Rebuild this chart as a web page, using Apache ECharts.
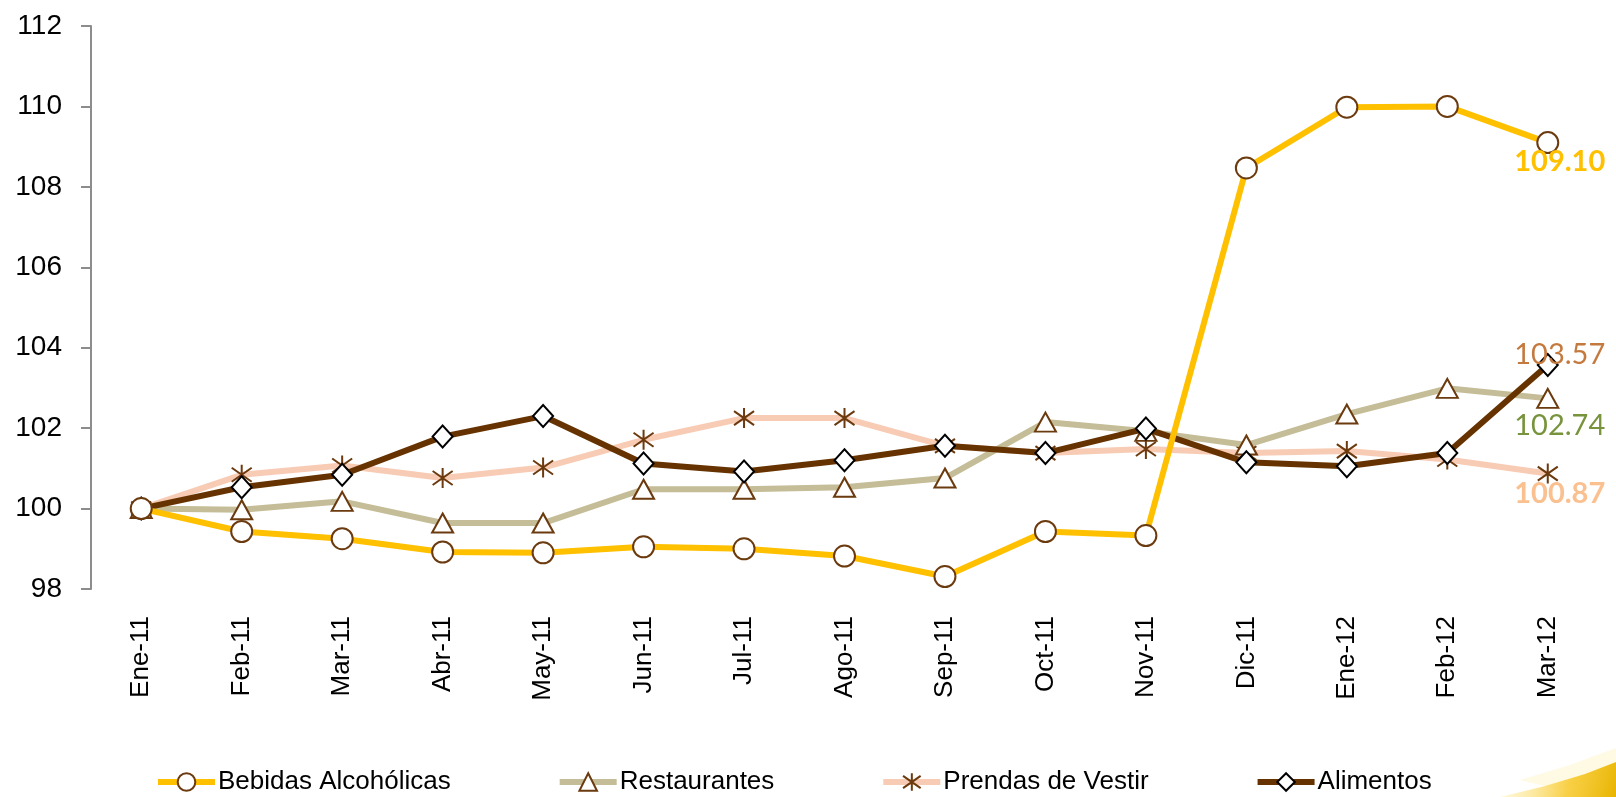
<!DOCTYPE html>
<html>
<head>
<meta charset="utf-8">
<script src="https://cdn.jsdelivr.net/npm/echarts@6/dist/echarts.min.js"></script>
<style>
  html, body { margin: 0; padding: 0; background: #fff; }
  #chart { width: 1616px; height: 797px; }
</style>
</head>
<body>
<div id="chart"></div>
<script>
// meses
const categories = ['Ene-11', 'Feb-11', 'Mar-11', 'Abr-11', 'May-11', 'Jun-11', 'Jul-11',
  'Ago-11', 'Sep-11', 'Oct-11', 'Nov-11', 'Dic-11', 'Ene-12', 'Feb-12', 'Mar-12'];

// indices (base Ene-11 = 100)
const bebidas = [100.00, 99.43, 99.25, 98.92, 98.90, 99.05, 99.00, 98.82, 98.31, 99.43, 99.33, 108.47, 109.98, 110.00, 109.10];
const restaurantes = [100.00, 99.97, 100.18, 99.64, 99.64, 100.48, 100.48, 100.53, 100.76, 102.15, 101.92, 101.58, 102.35, 102.99, 102.74];
const prendas = [100.00, 100.84, 101.07, 100.76, 101.02, 101.71, 102.25, 102.25, 101.56, 101.38, 101.48, 101.38, 101.43, 101.22, 100.87];
const alimentos = [100.00, 100.53, 100.84, 101.79, 102.30, 101.12, 100.92, 101.20, 101.56, 101.38, 101.99, 101.15, 101.05, 101.38, 103.57];

const seriesNames = ['Bebidas Alcohólicas', 'Restaurantes', 'Prendas de Vestir', 'Alimentos'];
const yTicks = { min: 98, max: 112, interval: 2 };

const markerBorder = '#6B3A0E';
const asterisk = 'path://M10,0 L10,20 M1,3 L19,17 M1,17 L19,3';

// solo el ultimo punto lleva etiqueta
function withLastLabel(values, label) {
  return values.map((v, i) => i === values.length - 1 ? { value: v, label: Object.assign({ show: true }, label) } : v);
}

const labelBase = { fontFamily: 'Lato', fontSize: 29, distance: 2, formatter: p => p.value.toFixed(2) };

let myChart = echarts.init(document.getElementById('chart'));

let option = {
  backgroundColor: '#ffffff',
  animation: false,
  graphic: [
    {
      // adorno amarillo de la esquina
      type: 'polygon',
      silent: true,
      z: -10,
      shape: { points: [[1500, 797], [1545, 786], [1585, 774], [1616, 762], [1616, 797]] },
      style: {
        fill: new echarts.graphic.LinearGradient(0, 0, 1, 1, [
          { offset: 0, color: 'rgba(255,236,150,0.2)' },
          { offset: 0.6, color: 'rgba(247,200,40,0.85)' },
          { offset: 1, color: '#E8B400' }
        ])
      }
    },
    {
      type: 'polygon',
      silent: true,
      z: -11,
      shape: { points: [[1520, 780], [1570, 765], [1616, 748], [1616, 770], [1560, 790]] },
      style: { fill: 'rgba(255,245,200,0.5)' }
    }
  ],
  grid: { left: 91, right: 18, top: 26, bottom: 208, containLabel: false },
  legend: {
    data: seriesNames,
    left: 150,
    top: 764,
    itemWidth: 57,
    itemHeight: 22,
    itemGap: 106,
    lineStyle: { width: 6 },
    textStyle: { fontFamily: 'Liberation Sans', fontSize: 26, color: '#000', padding: [0, 0, 0, -2] }
  },
  xAxis: {
    type: 'category',
    data: categories,
    boundaryGap: true,
    axisLine: { show: false },
    axisTick: { show: false },
    axisLabel: {
      rotate: 90,
      margin: 27,
      fontFamily: 'Liberation Sans',
      fontSize: 26,
      color: '#000'
    }
  },
  yAxis: {
    type: 'value',
    min: yTicks.min,
    max: yTicks.max,
    interval: yTicks.interval,
    splitLine: { show: false },
    axisLine: { show: true, lineStyle: { color: '#8C8C8C', width: 2 } },
    axisTick: { show: true, length: 10, lineStyle: { color: '#8C8C8C', width: 2 } },
    axisLabel: { margin: 29, fontFamily: 'Liberation Sans', fontSize: 28, color: '#000' }
  },
  series: [
    {
      name: seriesNames[0],
      type: 'line',
      z: 6,
      data: withLastLabel(bebidas, Object.assign({}, labelBase, { position: 'bottom', offset: [12, -9], color: '#FFC000', fontWeight: 'bold' })),
      lineStyle: { color: '#FFC000', width: 6 },
      symbol: 'circle',
      symbolSize: 21,
      itemStyle: { color: '#ffffff', borderColor: markerBorder, borderWidth: 2 }
    },
    {
      name: seriesNames[1],
      type: 'line',
      z: 3,
      data: withLastLabel(restaurantes, Object.assign({}, labelBase, { position: 'bottom', offset: [12, 0], color: '#77933C' })),
      lineStyle: { color: '#C4BD97', width: 6 },
      symbol: 'triangle',
      symbolSize: [21, 19],
      itemStyle: { color: '#ffffff', borderColor: markerBorder, borderWidth: 2 }
    },
    {
      name: seriesNames[2],
      type: 'line',
      z: 2,
      data: withLastLabel(prendas, Object.assign({}, labelBase, { position: 'bottom', offset: [12, -7], color: '#FAC090', fontWeight: 'bold' })),
      lineStyle: { color: '#F8CBB5', width: 6 },
      symbol: asterisk,
      symbolSize: 20,
      itemStyle: { color: 'rgba(0,0,0,0)', borderColor: markerBorder, borderWidth: 2 }
    },
    {
      name: seriesNames[3],
      type: 'line',
      z: 4,
      data: withLastLabel(alimentos, Object.assign({}, labelBase, { position: 'top', offset: [12, 18], color: '#C47A3F' })),
      lineStyle: { color: '#663300', width: 6 },
      symbol: 'diamond',
      symbolSize: [20, 22],
      itemStyle: { color: '#ffffff', borderColor: '#000000', borderWidth: 2 }
    }
  ]
};

option && myChart.setOption(option);
</script>
</body>
</html>
